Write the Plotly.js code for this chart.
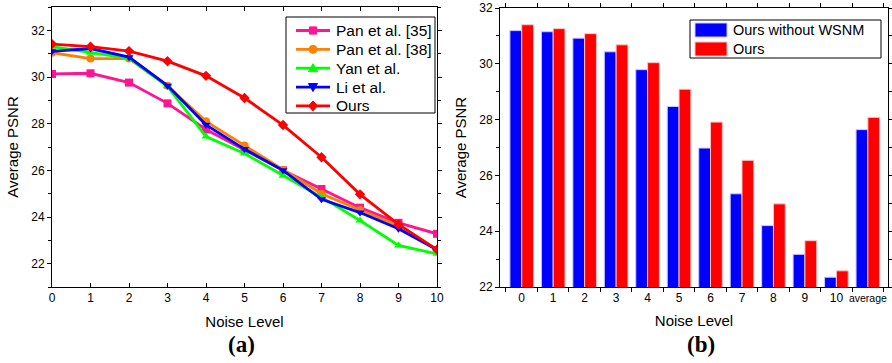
<!DOCTYPE html>
<html>
<head>
<meta charset="utf-8">
<script src="https://cdn.plot.ly/plotly-3.0.1.min.js"></script>
<style>html,body{margin:0;padding:0;background:#fff;}#chart{width:892px;height:363px;}</style>
</head>
<body>
<div id="chart"></div>
<script>
// ---- Data (a): line chart ----
var noiseLevels = [0,1,2,3,4,5,6,7,8,9,10];
var seriesNames = ['Pan et al. [35]','Pan et al. [38]','Yan et al.','Li et al.','Ours'];
var pan35 = [30.13,30.16,29.76,28.87,27.75,26.88,26.00,25.20,24.40,23.75,23.28];
var pan38 = [31.04,30.79,30.79,29.62,28.10,27.06,26.02,25.00,24.30,23.62,22.60];
var yan   = [31.30,31.04,30.80,29.60,27.45,26.72,25.77,24.85,23.85,22.78,22.42];
var li    = [31.10,31.22,30.85,29.63,27.95,26.91,26.00,24.76,24.19,23.50,22.60];
var ours  = [31.41,31.30,31.11,30.68,30.05,29.10,27.94,26.56,24.97,23.68,22.60];

// ---- Data (b): bar chart ----
var barCats = ['0','1','2','3','4','5','6','7','8','9','10','average'];
var barNames = ['Ours without WSNM','Ours'];
var oursNoWSNM = [31.19,31.15,30.92,30.43,29.79,28.47,26.98,25.34,24.20,23.17,22.35,27.64];
var oursBar    = [31.40,31.26,31.08,30.68,30.04,29.09,27.91,26.54,24.98,23.66,22.58,28.08];

var W = 892, H = 363;
function px(x){return x/W;}
function py(y){return 1 - y/H;}
function path(pts){
  return pts.map(function(p,i){return (i===0?'M':'L') + px(p[0]).toFixed(5) + ',' + py(p[1]).toFixed(5);}).join(' ') + ' Z';
}

var F = 'Arial, "Liberation Sans", sans-serif';
var colors = ['#ff1493','#ff8000','#00ff00','#0000ff','#ff0000'];
var symbols = ['square','circle','triangle-up','triangle-down','diamond'];
var lineData = [pan35, pan38, yan, li, ours];

var traces = lineData.map(function(y, i){
  return {x: noiseLevels, y: y, name: seriesNames[i], type: 'scatter', mode: 'lines+markers',
    line: {color: colors[i], width: 2.8}, marker: {color: colors[i], symbol: symbols[i], size: 8},
    xaxis: 'x', yaxis: 'y', showlegend: false};
});
traces.push({x: barCats, y: oursNoWSNM, name: barNames[0], type: 'bar', xaxis: 'x2', yaxis: 'y2',
    marker: {color: '#0000ff', line: {color: '#c8c8ff', width: 1}}, showlegend: false});
traces.push({x: barCats, y: oursBar, name: barNames[1], type: 'bar', xaxis: 'x2', yaxis: 'y2',
    marker: {color: '#ff0000', line: {color: '#ffc0c0', width: 1}}, showlegend: false});

var barTickText = barCats.map(function(c){
  return c === 'average' ? '<span style="font-size:10.5px">average</span>' : c;
});

var axBase = {showline: true, linecolor: '#000', linewidth: 1, showgrid: false, zeroline: false,
  tickcolor: '#000', tickfont: {family: F, size: 12, color: '#000'}};

// ---- manual legends (positions in pixels) ----
var shapes = [];
var annotations = [];
// left legend box
shapes.push({type: 'rect', xref: 'paper', yref: 'paper', x0: px(286), x1: px(435), y0: py(113), y1: py(17),
  line: {color: '#000', width: 1}, fillcolor: '#fff', layer: 'above'});
seriesNames.forEach(function(name, i){
  var cy = 30.5 + 18.85 * i, cx = 313, c = colors[i];
  shapes.push({type: 'line', xref: 'paper', yref: 'paper', x0: px(296), x1: px(330), y0: py(cy), y1: py(cy),
    line: {color: c, width: 2.8}, layer: 'above'});
  var s = symbols[i], mk;
  if (s === 'square') mk = {type: 'rect', x0: px(cx-3.6), x1: px(cx+3.6), y0: py(cy+3.6), y1: py(cy-3.6)};
  else if (s === 'circle') mk = {type: 'circle', x0: px(cx-4), x1: px(cx+4), y0: py(cy+4), y1: py(cy-4)};
  else if (s === 'triangle-up') mk = {type: 'path', path: path([[cx-4.5,cy+3.5],[cx+4.5,cy+3.5],[cx,cy-4.5]])};
  else if (s === 'triangle-down') mk = {type: 'path', path: path([[cx-4.5,cy-3.5],[cx+4.5,cy-3.5],[cx,cy+4.5]])};
  else mk = {type: 'path', path: path([[cx,cy-5],[cx+4.5,cy],[cx,cy+5],[cx-4.5,cy]])};
  mk.xref = 'paper'; mk.yref = 'paper'; mk.fillcolor = c; mk.line = {color: c, width: 1}; mk.layer = 'above';
  shapes.push(mk);
  annotations.push({xref: 'paper', yref: 'paper', x: px(334), y: py(cy), xanchor: 'left', yanchor: 'middle',
    text: name, showarrow: false, font: {family: F, size: 15.5, color: '#000'}});
});
// right legend
shapes.push({type: 'rect', xref: 'paper', yref: 'paper', x0: px(690), x1: px(881), y0: py(58), y1: py(20),
  line: {color: '#000', width: 1}, fillcolor: '#fff', layer: 'above'});
shapes.push({type: 'rect', xref: 'paper', yref: 'paper', x0: px(695), x1: px(727), y0: py(37), y1: py(23),
  line: {color: '#c8c8ff', width: 1}, fillcolor: '#0000ff', layer: 'above'});
shapes.push({type: 'rect', xref: 'paper', yref: 'paper', x0: px(695), x1: px(727), y0: py(56), y1: py(42),
  line: {color: '#ffc0c0', width: 1}, fillcolor: '#ff0000', layer: 'above'});
annotations.push({xref: 'paper', yref: 'paper', x: px(731), y: py(30), xanchor: 'left', yanchor: 'middle',
  text: barNames[0], showarrow: false, font: {family: F, size: 14.5, color: '#000'}});
annotations.push({xref: 'paper', yref: 'paper', x: px(731), y: py(49), xanchor: 'left', yanchor: 'middle',
  text: barNames[1], showarrow: false, font: {family: F, size: 14.5, color: '#000'}});
// panel labels
annotations.push({xref: 'paper', yref: 'paper', x: px(241), y: py(344), xanchor: 'center', yanchor: 'middle',
  text: '<b>(a)</b>', showarrow: false, font: {family: '"Liberation Serif", "DejaVu Serif", serif', size: 23, color: '#000'}});
annotations.push({xref: 'paper', yref: 'paper', x: px(701), y: py(344), xanchor: 'center', yanchor: 'middle',
  text: '<b>(b)</b>', showarrow: false, font: {family: '"Liberation Serif", "DejaVu Serif", serif', size: 23, color: '#000'}});

var layout = {
  width: W, height: H,
  margin: {l: 0, r: 0, t: 0, b: 0},
  paper_bgcolor: '#fff', plot_bgcolor: '#fff',
  font: {family: F, color: '#000'},
  showlegend: false,
  barmode: 'group', bargap: 0.25, bargroupgap: 0,
  xaxis: Object.assign({}, axBase, {domain: [px(52), px(437)], anchor: 'y', range: [0, 10],
    dtick: 1, tick0: 0, ticks: 'inside', ticklen: 4, mirror: 'ticks',
    title: {text: 'Noise Level', font: {family: F, size: 15, color: '#000'}, standoff: 12}}),
  yaxis: Object.assign({}, axBase, {domain: [py(287), py(7)], anchor: 'x', range: [21, 33],
    dtick: 2, tick0: 0, ticks: 'outside', ticklen: 4, mirror: 'ticks',
    minor: {dtick: 1, tick0: 1, ticks: 'outside', ticklen: 3, tickcolor: '#000'},
    title: {text: 'Average PSNR', font: {family: F, size: 15, color: '#000'}, standoff: 8}}),
  xaxis2: Object.assign({}, axBase, {domain: [px(500), px(888)], anchor: 'y2', type: 'category',
    range: [-0.69, 11.64], ticks: 'outside', tickson: 'boundaries', ticklen: 4, mirror: 'ticks',
    tickangle: 0, tickmode: 'array', tickvals: barCats, ticktext: barTickText,
    title: {text: 'Noise Level', font: {family: F, size: 15, color: '#000'}, standoff: 11}}),
  yaxis2: Object.assign({}, axBase, {domain: [py(287), py(8)], anchor: 'x2', range: [22, 32],
    dtick: 2, tick0: 0, ticks: 'outside', ticklen: 4, mirror: 'ticks',
    minor: {dtick: 1, tick0: 1, ticks: 'outside', ticklen: 3, tickcolor: '#000'},
    title: {text: 'Average PSNR', font: {family: F, size: 15, color: '#000'}, standoff: 8}}),
  shapes: shapes,
  annotations: annotations
};

Plotly.newPlot('chart', traces, layout, {displayModeBar: false, staticPlot: true});
</script>
</body>
</html>
